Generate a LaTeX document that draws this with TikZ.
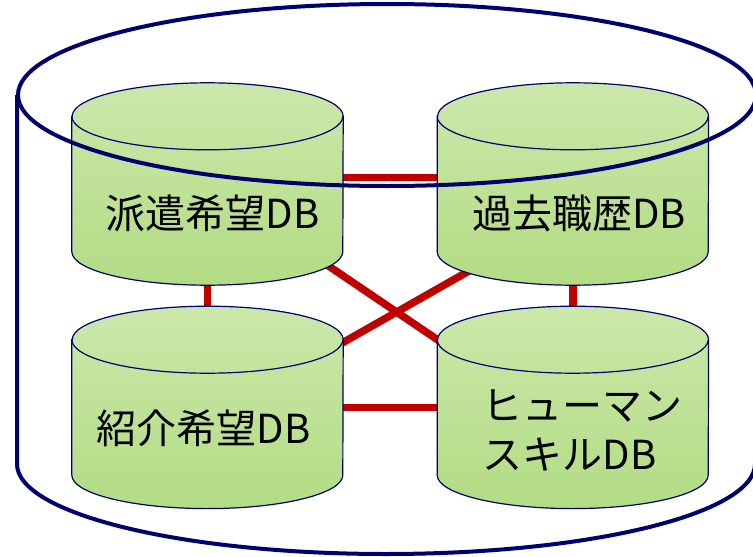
\documentclass[tikz,border=0pt]{standalone}
\usepackage{fontspec}
\usepackage{xcolor}
\usepackage{tikz}
\usetikzlibrary{shapes.geometric,positioning,backgrounds,calc}
\newfontfamily\jpfont{Noto Sans CJK JP}
\definecolor{navyline}{RGB}{0,0,110}
\definecolor{linkred}{RGB}{192,0,0}
\definecolor{dbtop}{RGB}{203,232,170}
\definecolor{dbbottom}{RGB}{178,220,132}
\tikzset{
  dbbox/.style={rectangle, minimum width=271pt, minimum height=202pt, inner sep=0pt}, % drum frame
  drum/.style={draw=navyline, line width=1.2pt, top color=dbtop, bottom color=dbbottom},
  drumlid/.style={draw=navyline, line width=1.2pt},
  dbtext/.style={font=\jpfont\fontsize{40}{49}\selectfont, align=left, inner sep=0pt},
  link/.style={draw=linkred, line width=7.5pt},
  outer/.style={draw=navyline, line width=4pt}
}
% database drum round a named frame
\newcommand{\drawdrum}[1]{%
  \path[drum] ($(#1.north west)+(0,33.5)$) -- ($(#1.south west)+(0,-33.5)$)
    arc[start angle=180, end angle=0, x radius=135.5, y radius=33.5]
    -- ($(#1.north east)+(0,33.5)$)
    arc[start angle=0, end angle=-180, x radius=135.5, y radius=33.5] -- cycle;
  \draw[drumlid] ($(#1.north west)+(0,33.5)$)
    arc[start angle=180, end angle=0, x radius=135.5, y radius=33.5];
}
\begin{document}
\begin{tikzpicture}[x=1pt,y=-1pt]
    \useasboundingbox (0,0) rectangle (753,557);

    % Databases
    \node[dbbox] (haken) at (207.5,184) {};
    \node[dbbox] (kako) [right=94pt of haken] {};
    \node[dbbox] (shokai) [below=21pt of haken] {};
    \node[dbbox] (human) [below=21pt of kako] {};
    \drawdrum{haken}
    \drawdrum{kako}
    \drawdrum{shokai}
    \drawdrum{human}

    % Labels
    \node[dbtext] (hakentxt) at ([xshift=5pt,yshift=-29pt]haken.center) {派遣希望DB};
    \node[dbtext] (kakotxt) at ([xshift=6pt,yshift=-29pt]kako.center) {過去職歴DB};
    \node[dbtext] (shokaitxt) at ([xshift=-4pt,yshift=-21pt]shokai.center) {紹介希望DB};
    \node[dbtext] (humantxt) at ([xshift=10pt,yshift=-23pt]human.center) {ヒューマン\\スキルDB};

    % Links between databases
    \begin{scope}[on background layer]
        \draw[link] ([yshift=6.5pt]haken.east) -- ([yshift=6.5pt]kako.west);
        \draw[link] (haken) -- (shokai);
        \draw[link] (kako) -- (human);
        \draw[link] (shokai) -- (human);
        \draw[link] (haken.center) -- ([yshift=-24pt]human.center);
        \draw[link] ([yshift=-12pt]shokai.center) -- ([yshift=-28pt]kako.center);
    \end{scope}

    % Outer drum
    \draw[outer] (17,95) -- (17,464) arc[start angle=180, end angle=0, x radius=369, y radius=90] -- (755,95);
    \draw[outer] (387,95) ellipse[x radius=369, y radius=91];
\end{tikzpicture}
\end{document}
